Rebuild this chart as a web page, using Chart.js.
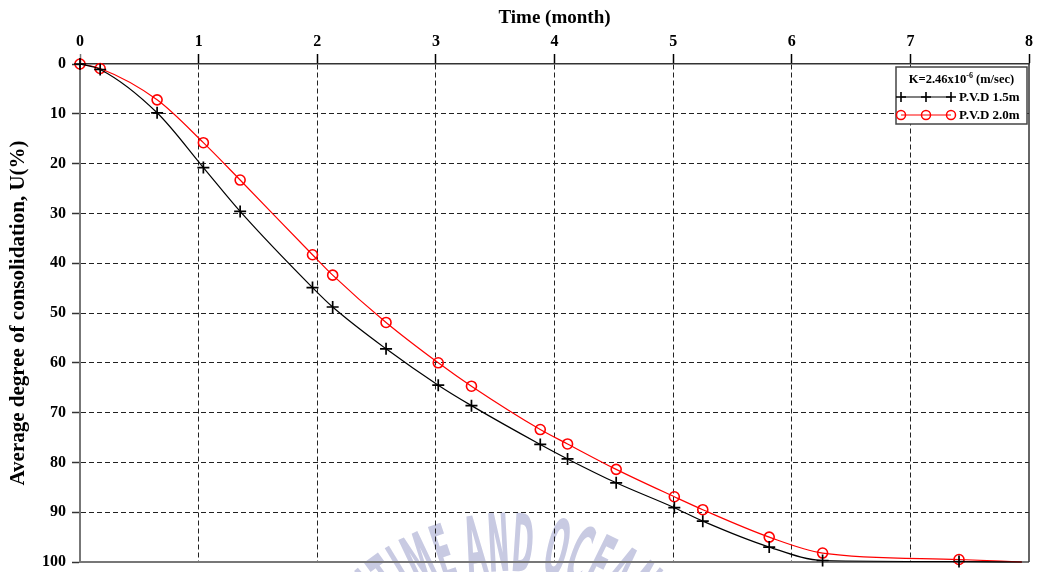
<!DOCTYPE html>
<html>
<head>
<meta charset="utf-8">
<title>Average degree of consolidation vs time</title>
<script src="https://cdn.jsdelivr.net/npm/chart.js@4.4.1/dist/chart.umd.min.js"></script>
<style>
  html, body { margin: 0; padding: 0; background: #ffffff; }
  #wrap { width: 1040px; height: 572px; }
</style>
</head>
<body>
<div id="wrap"><canvas id="chart" width="1040" height="572"></canvas></div>
<script>
// Elapsed time (months) at which consolidation was evaluated
const timeMonths = [0, 0.17, 0.65, 1.04, 1.35, 1.96, 2.13, 2.58, 3.02, 3.30, 3.88, 4.11, 4.52, 5.01, 5.25, 5.81, 6.26, 7.41, 7.94];
// Average degree of consolidation U (%) for each drain spacing
const pvd15 = [0, 1.1, 9.8, 20.8, 29.6, 44.9, 48.8, 57.2, 64.5, 68.6, 76.4, 79.3, 84.1, 89.1, 91.8, 97.0, 99.7, 99.9, 100];
const pvd20 = [0, 0.9, 7.2, 15.8, 23.3, 38.3, 42.4, 51.9, 60.0, 64.7, 73.4, 76.3, 81.4, 86.9, 89.5, 95.0, 98.2, 99.5, 100];
const seriesNames = ['P.V.D 1.5m', 'P.V.D 2.0m'];
// Number of samples that carry a marker (the final sample only closes the curve)
const markedSamples = 18;
// Axis ticks
const timeTicks = [0, 1, 2, 3, 4, 5, 6, 7, 8];
const uTicks = [0, 10, 20, 30, 40, 50, 60, 70, 80, 90, 100];
const permeabilityBase = 'K=2.46x10';
const permeabilityExp = '-6';
const permeabilityUnit = ' (m/sec)';
const sealText = 'ITIME AND OCEAN';

const SERIF = '"Liberation Serif", "Times New Roman", Times, serif';

function toPoints(ys) {
  return timeMonths.map((t, i) => ({ x: t, y: ys[i] }));
}

// Faint circular seal lettering behind the plot
const sealPlugin = {
  id: 'seal',
  beforeDraw(chart) {
    const ctx = chart.ctx;
    const cx = 509, cy = 748, rBase = 177, sx = 0.36;
    ctx.save();
    ctx.font = 'bold 80px "Liberation Sans Narrow", "DejaVu Sans Condensed", "Liberation Sans", sans-serif';
    ctx.fillStyle = '#c8cae2';
    ctx.textAlign = 'center';
    ctx.textBaseline = 'alphabetic';
    const rMid = 205;
    const adv = [...sealText].map(ch => (ch === ' ' ? 10 : ctx.measureText(ch).width * sx + 3) / rMid);
    const total = adv.reduce((a, b) => a + b, 0);
    let a = -total / 2;
    [...sealText].forEach((ch, i) => {
      const mid = a + adv[i] / 2;
      a += adv[i];
      if (ch === ' ') return;
      ctx.save();
      ctx.translate(cx + rBase * Math.sin(mid), cy - rBase * Math.cos(mid));
      ctx.rotate(mid);
      ctx.scale(sx, 1);
      ctx.fillText(ch, 0, 0);
      ctx.restore();
    });
    ctx.restore();
  }
};

// Right and bottom edges of the plotting frame
const framePlugin = {
  id: 'frame',
  beforeDatasetsDraw(chart) {
    const { ctx, chartArea: a } = chart;
    ctx.save();
    ctx.lineWidth = 2;
    ctx.strokeStyle = '#777777';
    ctx.beginPath();
    ctx.moveTo(a.left, a.bottom);
    ctx.lineTo(a.right, a.bottom);
    ctx.stroke();
    ctx.lineWidth = 1.5;
    ctx.strokeStyle = '#333333';
    ctx.beginPath();
    ctx.moveTo(a.right, a.top);
    ctx.lineTo(a.right, a.bottom);
    ctx.stroke();
    ctx.restore();
  }
};

function drawMarker(ctx, style, x, y, color) {
  ctx.strokeStyle = color;
  if (style === 'cross') {
    ctx.lineWidth = 1.6;
    ctx.beginPath();
    ctx.moveTo(x - 5, y); ctx.lineTo(x + 5, y);
    ctx.moveTo(x, y - 5); ctx.lineTo(x, y + 5);
    ctx.stroke();
  } else {
    ctx.lineWidth = 1.5;
    ctx.beginPath();
    ctx.arc(x, y, 4.5, 0, Math.PI * 2);
    ctx.stroke();
  }
}

// Boxed key in the upper right corner
const keyPlugin = {
  id: 'boxKey',
  afterDatasetsDraw(chart) {
    const { ctx, chartArea: a } = chart;
    const bx = a.right - 133, by = a.top + 3, bw = 131, bh = 57;
    ctx.save();
    ctx.fillStyle = '#ffffff';
    ctx.fillRect(bx, by, bw, bh);
    ctx.lineWidth = 1.5;
    ctx.strokeStyle = '#444444';
    ctx.strokeRect(bx, by, bw, bh);

    // header with exponent
    ctx.fillStyle = '#000000';
    ctx.textBaseline = 'middle';
    ctx.textAlign = 'left';
    const fMain = 'bold 12.5px ' + SERIF;
    const fSup = 'bold 8px ' + SERIF;
    ctx.font = fMain;
    const w1 = ctx.measureText(permeabilityBase).width;
    const w3 = ctx.measureText(permeabilityUnit).width;
    ctx.font = fSup;
    const w2 = ctx.measureText(permeabilityExp).width;
    let hx = bx + bw / 2 - (w1 + w2 + w3) / 2;
    const hy = by + 13;
    ctx.font = fMain;
    ctx.fillText(permeabilityBase, hx, hy);
    ctx.font = fSup;
    ctx.fillText(permeabilityExp, hx + w1, hy - 4);
    ctx.font = fMain;
    ctx.fillText(permeabilityUnit, hx + w1 + w2, hy);

    chart.data.datasets.forEach((ds, i) => {
      const y = by + 30 + i * 18;
      const x0 = bx + 5, x1 = bx + 55;
      ctx.strokeStyle = ds.borderColor;
      ctx.lineWidth = 1.2;
      ctx.beginPath();
      ctx.moveTo(x0, y); ctx.lineTo(x1, y);
      ctx.stroke();
      [x0, (x0 + x1) / 2, x1].forEach(mx => drawMarker(ctx, ds.pointStyle, mx, y, ds.pointBorderColor));
      ctx.fillStyle = '#000000';
      ctx.font = 'bold 13px ' + SERIF;
      ctx.textAlign = 'left';
      ctx.fillText(ds.label, bx + 63, y + 0.5);
    });
    ctx.restore();
  }
};

const markerRadius = (r) => (c) => (c.dataIndex < markedSamples ? r : 0);

new Chart(document.getElementById('chart'), {
  type: 'line',
  data: {
    datasets: [
      {
        label: seriesNames[0],
        data: toPoints(pvd15),
        borderColor: '#000000',
        borderWidth: 1.2,
        pointStyle: 'cross',
        pointRadius: markerRadius(6),
        pointBorderWidth: 1.7,
        pointBorderColor: '#000000',
        pointBackgroundColor: '#000000',
        cubicInterpolationMode: 'monotone',
        fill: false,
        clip: false
      },
      {
        label: seriesNames[1],
        data: toPoints(pvd20),
        borderColor: '#ff0000',
        borderWidth: 1.2,
        pointStyle: 'circle',
        pointRadius: markerRadius(5),
        pointBorderWidth: 1.6,
        pointBorderColor: '#ff0000',
        pointBackgroundColor: 'rgba(0,0,0,0)',
        cubicInterpolationMode: 'monotone',
        fill: false,
        clip: false
      }
    ]
  },
  options: {
    responsive: false,
    animation: false,
    devicePixelRatio: 1,
    events: [],
    layout: { padding: { left: 0, top: 0, right: 11, bottom: 10 } },
    plugins: {
      legend: { display: false },
      tooltip: { enabled: false }
    },
    scales: {
      x: {
        type: 'linear',
        position: 'top',
        min: 0,
        max: 8,
        afterBuildTicks: (s) => { s.ticks = timeTicks.map(v => ({ value: v })); },
        afterFit: (s) => { s.height = 64; s.paddingLeft = 0; s.paddingRight = 0; },
        ticks: {
          color: '#000000',
          padding: 3,
          font: { family: SERIF, size: 16, weight: 'bold' }
        },
        grid: {
          color: (c) => (c.tick && (c.tick.value === 0 || c.tick.value === 8)) ? 'rgba(0,0,0,0)' : '#222222',
          lineWidth: 1,
          tickLength: 10,
          tickColor: (c) => (c.tick && c.tick.value === 0) ? '#777777' : '#000000',
          tickWidth: 1.5
        },
        border: { display: true, color: '#333333', width: 1.5, dash: [5, 3] },
        title: {
          display: true,
          text: 'Time (month)',
          color: '#000000',
          padding: { top: 7, bottom: 0 },
          font: { family: SERIF, size: 19, weight: 'bold' }
        }
      },
      y: {
        type: 'linear',
        position: 'left',
        reverse: true,
        min: 0,
        max: 100,
        afterBuildTicks: (s) => { s.ticks = uTicks.map(v => ({ value: v })); },
        afterFit: (s) => { s.width = 80; s.paddingTop = 0; s.paddingBottom = 0; },
        ticks: {
          color: '#000000',
          padding: 6,
          font: { family: SERIF, size: 16, weight: 'bold' }
        },
        grid: {
          color: (c) => (c.tick && (c.tick.value === 0 || c.tick.value === 100)) ? 'rgba(0,0,0,0)' : '#222222',
          lineWidth: 1,
          tickLength: 8,
          tickColor: '#333333',
          tickWidth: 1.5
        },
        border: { display: true, color: '#777777', width: 2, dash: [5, 3] },
        title: {
          display: true,
          text: 'Average degree of consolidation, U(%)',
          color: '#000000',
          padding: { top: 6, bottom: 0 },
          font: { family: SERIF, size: 21, weight: 'bold' }
        }
      }
    }
  },
  plugins: [sealPlugin, framePlugin, keyPlugin]
});
</script>
</body>
</html>
